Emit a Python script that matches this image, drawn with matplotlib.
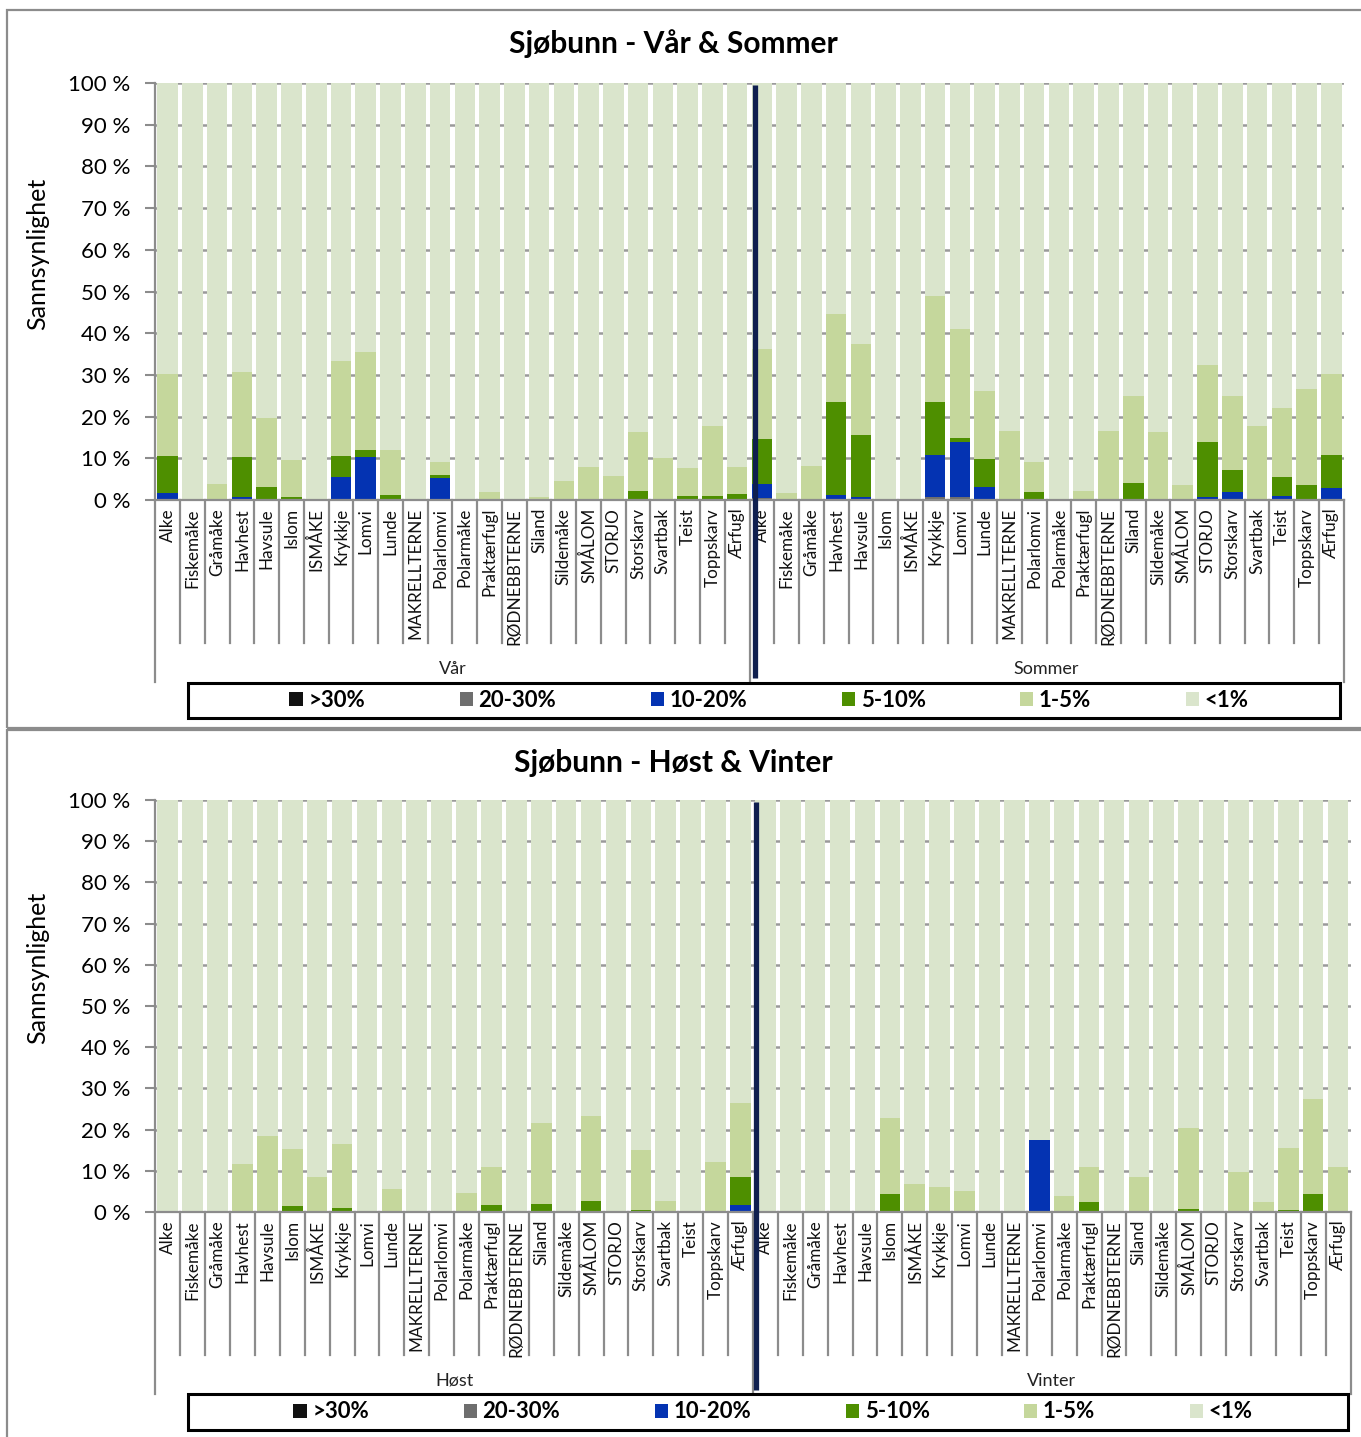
import matplotlib
matplotlib.use("Agg")
import matplotlib.pyplot as plt
import matplotlib.transforms as mtransforms
from matplotlib.patches import Rectangle, Patch
import numpy as np

plt.rcParams['font.family'] = ['Lato', 'DejaVu Sans']

species = ["Alke", "Fiskemåke", "Gråmåke", "Havhest", "Havsule", "Islom", "ISMÅKE",
           "Krykkje", "Lomvi", "Lunde", "MAKRELLTERNE", "Polarlomvi", "Polarmåke",
           "Praktærfugl", "RØDNEBBTERNE", "Siland", "Sildemåke", "SMÅLOM", "STORJO",
           "Storskarv", "Svartbak", "Teist", "Toppskarv", "Ærfugl"]

classes = [">30%", "20-30%", "10-20%", "5-10%", "1-5%", "<1%"]
class_colors = ["#111111", "#6e6e6e", "#0433b2", "#4e8f00", "#c5d79c", "#dae5cc"]

# Probability (%) per species for each class; "<1%" fills up to 100 %
var_30 = [0] * 24
var_20_30 = [0, 0, 0, 0, 0, 0, 0, 0.2, 0.2, 0, 0, 0, 0, 0, 0, 0, 0, 0, 0, 0, 0, 0, 0, 0]
var_10_20 = [1.7, 0, 0, 0.6, 0, 0, 0, 5.4, 10.2, 0, 0, 5.3, 0, 0, 0, 0, 0, 0, 0, 0.3, 0, 0, 0, 0]
var_5_10 = [8.9, 0, 0, 9.8, 3.0, 0.6, 0, 5.0, 1.7, 1.2, 0, 0.6, 0, 0, 0, 0, 0, 0, 0, 1.9, 0, 0.9, 0.9, 1.4]
var_1_5 = [19.6, 0.3, 3.9, 20.2, 16.6, 8.9, 0, 22.8, 23.3, 10.9, 0, 3.1, 0, 2.0, 0, 0.6, 4.5, 7.8, 5.7, 14.0, 10.1, 6.7, 16.8, 6.4]

sommer_30 = [0] * 24
sommer_20_30 = [0.4, 0, 0, 0, 0, 0, 0, 0.6, 0.6, 0, 0, 0, 0, 0, 0, 0, 0, 0, 0, 0, 0, 0, 0, 0]
sommer_10_20 = [3.5, 0, 0, 1.1, 0.8, 0, 0, 10.1, 13.2, 3.0, 0, 0, 0, 0, 0, 0.3, 0, 0, 0.6, 1.8, 0, 0.9, 0, 2.9]
sommer_5_10 = [10.7, 0, 0, 22.3, 14.7, 0, 0, 12.7, 1.1, 6.8, 0, 1.9, 0, 0, 0.3, 3.7, 0.3, 0, 13.4, 5.3, 0.3, 4.7, 3.7, 7.9]
sommer_1_5 = [21.7, 1.7, 8.2, 21.3, 22.0, 0, 0, 25.6, 26.1, 16.4, 16.6, 7.1, 0, 2.2, 16.3, 21.0, 16.0, 3.7, 18.3, 17.9, 17.4, 16.4, 22.8, 19.5]

host_30 = [0] * 24
host_20_30 = [0] * 24
host_10_20 = [0, 0, 0, 0, 0, 0, 0, 0, 0, 0, 0, 0, 0, 0, 0, 0, 0, 0, 0, 0, 0, 0, 0, 1.7]
host_5_10 = [0, 0, 0, 0, 0, 1.4, 0, 0.9, 0, 0, 0, 0, 0, 1.7, 0, 2.0, 0, 2.6, 0, 0.5, 0, 0, 0, 6.8]
host_1_5 = [0, 0, 0.2, 11.7, 18.5, 13.9, 8.5, 15.6, 0, 5.7, 0, 0, 4.5, 9.2, 0, 19.6, 0, 20.7, 0, 14.6, 2.6, 0, 12.2, 17.9]

vinter_30 = [0] * 24
vinter_20_30 = [0] * 24
vinter_10_20 = [0, 0, 0, 0, 0, 0, 0, 0, 0, 0, 0, 17.5, 0, 0, 0, 0, 0, 0, 0, 0, 0, 0, 0, 0]
vinter_5_10 = [0, 0, 0, 0, 0, 4.3, 0, 0, 0, 0, 0, 0, 0, 2.5, 0, 0, 0, 0.7, 0, 0, 0, 0.4, 4.3, 0]
vinter_1_5 = [0, 0, 0.2, 0, 0, 18.6, 6.8, 6.0, 5.1, 0, 0, 0, 3.9, 8.5, 0, 8.4, 0, 19.8, 0, 9.6, 2.5, 15.1, 23.2, 11.0]

W, H = 1361, 1437
fig = plt.figure(figsize=(W / 100, H / 100), dpi=100)


def rect(l, t, r, b):
    return [l / W, 1 - b / H, (r - l) / W, (b - t) / H]


def season_stack(parts):
    parts = [np.asarray(p, float) for p in parts]
    rest = 100.0 - np.sum(parts, axis=0)
    return parts + [rest]


def draw_panel(ax_box, title, title_y, ylabel_y, divider_x, seasons, season_data, legend_box):
    l, t, r, b = ax_box
    hpx = b - t
    ax = fig.add_axes(rect(l, t, r, b))
    stacks = [season_stack(d) for d in season_data]
    n = len(species)
    x = np.arange(2 * n)
    bottom = np.zeros(2 * n)
    for k, (cls, col) in enumerate(zip(classes, class_colors)):
        vals = np.concatenate([stacks[0][k], stacks[1][k]])
        ax.bar(x, vals, width=0.83, bottom=bottom, color=col, zorder=2, linewidth=0)
        bottom += vals

    ax.set_xlim(-0.5, 2 * n - 0.5)
    ax.set_ylim(0, 100)
    ax.set_yticks(np.arange(0, 101, 10))
    ax.set_yticklabels([f"{v} %" for v in range(0, 101, 10)], fontsize=16)
    ax.yaxis.grid(True, color="#9a9a9a", linewidth=1.8, zorder=0)
    ax.set_axisbelow(True)
    ax.tick_params(axis="y", length=7, width=1.5, color="#8c8c8c", pad=11)
    ax.set_xticks([])
    for side in ("top", "right"):
        ax.spines[side].set_visible(False)
    for side in ("left", "bottom"):
        ax.spines[side].set_color("#8c8c8c")
        ax.spines[side].set_linewidth(1.6)

    trans = mtransforms.blended_transform_factory(ax.transData, ax.transAxes)
    # category separators below the axis
    for i in range(1, 2 * n):
        if i == n:
            continue
        ax.plot([i - 0.5, i - 0.5], [0, -143 / hpx], color="#8c8c8c", lw=1.6,
                transform=trans, clip_on=False)
    for xb in (-0.5, n - 0.5, 2 * n - 0.5):
        ax.plot([xb, xb], [0, -182 / hpx], color="#8c8c8c", lw=1.6,
                transform=trans, clip_on=False)

    # species labels
    for j in range(2 * n):
        ax.text(j, -8 / hpx, species[j % n], rotation=90, ha="center", va="top",
                fontsize=12.3, transform=trans, color="#111111")
    # season labels
    for s, name in enumerate(seasons):
        ax.text(s * n + (n - 1) / 2, -169 / hpx, name, ha="center", va="center",
                fontsize=13, transform=trans, color="#222222")

    # divider between the two seasons
    ax.plot([divider_x, divider_x], [1.0 - 2 / hpx, -178 / hpx], color="#0f1f4f", lw=3.8,
            transform=trans, clip_on=False, zorder=5, solid_capstyle="butt")

    fig.text(673 / W, 1 - title_y / H, title, ha="center", va="center",
             fontsize=21.5, fontweight="bold")
    fig.text(38 / W, 1 - ylabel_y / H, "Sannsynlighet", rotation=90,
             ha="center", va="center", fontsize=18)

    # legend with its frame
    bl, bt, br, bb = legend_box
    fig.patches.append(Rectangle((bl / W, 1 - bb / H), (br - bl) / W, (bb - bt) / H,
                                 transform=fig.transFigure, fill=False,
                                 edgecolor="black", linewidth=2.2))
    handles = [Patch(facecolor=c, edgecolor="none") for c in class_colors]
    fig.legend(handles, classes, loc="center", ncol=6,
               bbox_to_anchor=((bl + br) / 2 / W + 5 / W, 1 - (bt + bb) / 2 / H),
               frameon=False, handlelength=0.6, handleheight=0.6,
               handletextpad=0.25, columnspacing=4.25,
               prop={"weight": "bold", "size": 16})


# outer frames of the two panels
for (l, t, r, b) in [(7, 10, 1370, 728), (7, 730, 1370, 1445)]:
    fig.patches.append(Rectangle((l / W, 1 - b / H), (r - l) / W, (b - t) / H,
                                 transform=fig.transFigure, fill=False,
                                 edgecolor="#8c8c8c", linewidth=1.6))

draw_panel((155.3, 83, 1343.7, 500), "Sjøbunn - Vår & Sommer", 44, 254, 23.74,
           ["Vår", "Sommer"],
           [[var_30, var_20_30, var_10_20, var_5_10, var_1_5],
            [sommer_30, sommer_20_30, sommer_10_20, sommer_5_10, sommer_1_5]],
           (188, 683, 1340, 718))
draw_panel((155.3, 800, 1350.5, 1212), "Sjøbunn - Høst & Vinter", 763, 968, 23.64,
           ["Høst", "Vinter"],
           [[host_30, host_20_30, host_10_20, host_5_10, host_1_5],
            [vinter_30, vinter_20_30, vinter_10_20, vinter_5_10, vinter_1_5]],
           (188, 1394, 1348, 1430))

fig.savefig("out.png", dpi=100)
